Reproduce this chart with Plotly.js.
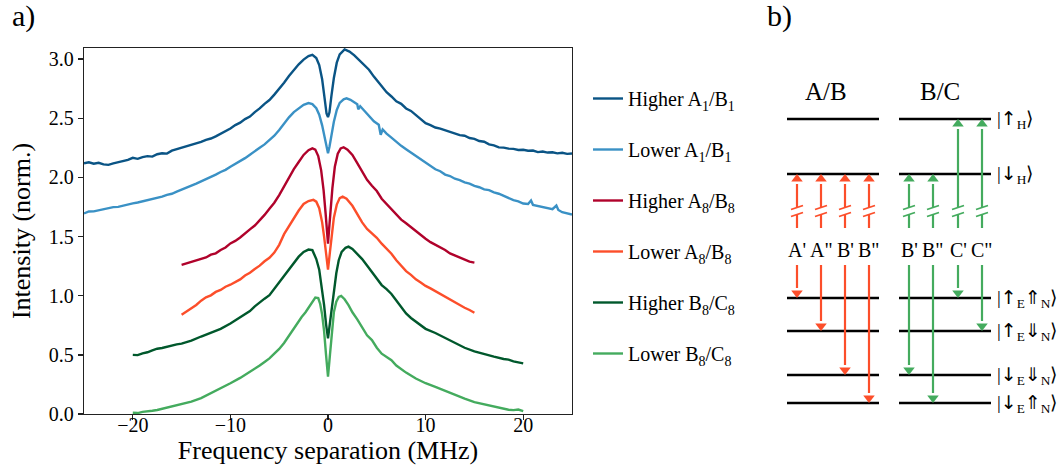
<!DOCTYPE html>
<html><head><meta charset="utf-8">
<script src="https://cdn.plot.ly/plotly-3.0.1.min.js"></script>
<style>html,body{margin:0;padding:0;background:#fff}#chart{width:1058px;height:473px}</style>
</head><body><div id="chart"></div>
<script>
// ---------------- Panel a) data ----------------
const seriesNames = ['Higher A<sub>1</sub>/B<sub>1</sub>','Lower A<sub>1</sub>/B<sub>1</sub>','Higher A<sub>8</sub>/B<sub>8</sub>','Lower A<sub>8</sub>/B<sub>8</sub>','Higher B<sub>8</sub>/C<sub>8</sub>','Lower B<sub>8</sub>/C<sub>8</sub>'];
const seriesColors = ['#0a5485','#3a91c5','#b0022b','#fc4e2a','#00582c','#44ab5e'];

const hiA1_x = [-25,-24.5,-24,-23.5,-23,-22.5,-22,-21.5,-21,-20.5,-20,-19.5,-19,-18.5,-18,-17.5,-17,-16.5,-16,-15.5,-15,-14.5,-14,-13.5,-13,-12.5,-12,-11.5,-11,-10.5,-10,-9.5,-9,-8.5,-8,-7.5,-7,-6.5,-6,
 -5.5,-5,-4.5,-4,-3.5,-3,-2.5,-2,-1.6,-1.2,-0.9,-0.6,-0.35,-0.15,0,0.15,0.35,0.6,0.9,1.2,1.7,2.2,2.7,3.2,3.7,4.2,4.7,5.2,5.7,
 6,6.5,7,7.5,8,8.5,9,9.5,10,10.5,11,11.5,12,12.5,13,13.5,14,14.5,15,15.5,16,16.5,17,17.5,18,18.5,19,19.5,20,20.5,21,21.5,22,22.5,23,23.5,24,24.5,25];
const hiA1_y = [2.12,2.128,2.116,2.124,2.11,2.106,2.118,2.128,2.142,2.148,2.166,2.157,2.172,2.18,2.176,2.196,2.204,2.201,2.226,2.238,2.256,2.262,2.278,2.288,2.3,2.318,2.329,2.347,2.368,2.392,2.414,2.442,2.463,2.493,2.514,2.552,2.583,2.622,2.654,
 2.70,2.748,2.80,2.857,2.908,2.956,2.996,3.026,3.036,3.01,2.95,2.83,2.67,2.54,2.51,2.55,2.69,2.84,2.97,3.04,3.082,3.064,3.032,2.993,2.957,2.91,2.852,2.803,2.757,
 2.72,2.684,2.643,2.622,2.583,2.562,2.526,2.494,2.458,2.442,2.422,2.413,2.398,2.384,2.372,2.357,2.352,2.333,2.326,2.308,2.302,2.279,2.271,2.254,2.252,2.243,2.241,2.232,2.234,2.226,2.227,2.214,2.219,2.21,2.212,2.203,2.208,2.199,2.202];

const loA1_x = [-25,-24.5,-24,-23.5,-23,-22.5,-22,-21.5,-21,-20.5,-20,-19.5,-19,-18.5,-18,-17.5,-17,-16.5,-16,-15.5,-15,-14.5,-14,-13.5,-13,-12.5,-12,-11.5,-11,-10.5,-10,-9.5,-9,-8.5,-8,-7.5,-7,-6.5,-6,
 -5.5,-5,-4.5,-4,-3.5,-3,-2.5,-2,-1.6,-1.2,-0.9,-0.6,-0.35,-0.15,0,0.15,0.35,0.6,0.9,1.2,1.6,1.9,2.3,2.7,3.0,3.1,3.3,3.7,4.2,4.7,5.2,5.4,5.6,
 6,6.5,7,7.5,8,8.5,9,9.5,10,10.5,11,11.5,12,12.5,13,13.5,14,14.5,15,15.5,16,16.5,17,17.5,18,18.5,19,19.5,20,20.5,20.8,21,21.5,22,22.5,23,23.4,23.6,24,24.5,25];
const loA1_y = [1.695,1.712,1.713,1.722,1.728,1.738,1.749,1.751,1.762,1.771,1.781,1.788,1.797,1.808,1.816,1.829,1.838,1.853,1.862,1.879,1.898,1.914,1.931,1.948,1.966,1.984,2.006,2.024,2.046,2.064,2.09,2.113,2.141,2.163,2.192,2.218,2.251,2.279,2.316,
 2.352,2.40,2.458,2.508,2.552,2.586,2.614,2.628,2.62,2.585,2.53,2.44,2.34,2.25,2.205,2.26,2.36,2.47,2.57,2.63,2.66,2.668,2.656,2.632,2.618,2.575,2.602,2.566,2.516,2.474,2.446,2.36,2.405,
 2.37,2.336,2.298,2.267,2.238,2.211,2.178,2.152,2.124,2.097,2.069,2.052,2.024,2.012,1.989,1.977,1.958,1.947,1.928,1.917,1.899,1.892,1.873,1.862,1.843,1.823,1.808,1.797,1.779,1.776,1.805,1.768,1.759,1.747,1.739,1.731,1.762,1.725,1.706,1.699,1.686];

const hiA8_x = [-15,-14.5,-14,-13.5,-13,-12.5,-12,-11.5,-11,-10.5,-10,-9.5,-9,-8.5,-8,-7.5,-7,-6.5,-6,-5.5,-5,-4.5,-4,-3.5,-3,-2.5,-2,-1.6,-1.3,-1.0,-0.7,-0.45,-0.25,-0.1,0,0.1,0.25,0.45,0.7,1.0,1.3,1.6,2.0,2.5,3.0,3.5,4.0,4.5,5.0,5.5,6,6.5,7,7.5,8,8.5,9,9.5,10,10.5,11,11.5,12,12.5,13,13.5,14,14.5,15];
const hiA8_y = [1.26,1.272,1.287,1.298,1.312,1.323,1.347,1.358,1.386,1.408,1.442,1.463,1.492,1.523,1.561,1.593,1.636,1.683,1.736,1.786,1.85,1.925,2.0,2.07,2.13,2.19,2.23,2.245,2.235,2.18,2.06,1.89,1.70,1.53,1.44,1.55,1.72,1.91,2.09,2.2,2.245,2.255,2.235,2.19,2.12,2.045,1.98,1.93,1.885,1.82,1.775,1.73,1.685,1.643,1.612,1.578,1.546,1.508,1.481,1.453,1.432,1.408,1.387,1.358,1.342,1.323,1.306,1.288,1.28];

const loA8_x = [-15,-14.5,-14,-13.5,-13,-12.5,-12,-11.5,-11,-10.5,-10,-9.5,-9,-8.5,-8,-7.5,-7,-6.5,-6,-5.5,-5,-4.5,-4,-3.5,-3,-2.5,-2,-1.5,-1.2,-0.9,-0.6,-0.4,-0.2,0,0.2,0.4,0.6,0.9,1.2,1.5,1.9,2.5,3.0,3.5,4.0,4.5,5.0,5.5,6,6.5,7,7.5,8,8.5,9,9.5,10,10.5,11,11.5,12,12.5,13,13.5,14,14.5,15];
const loA8_y = [0.84,0.868,0.892,0.922,0.958,0.986,1.003,1.032,1.049,1.076,1.093,1.117,1.138,1.171,1.194,1.226,1.254,1.291,1.32,1.365,1.43,1.52,1.59,1.66,1.72,1.775,1.80,1.81,1.795,1.74,1.62,1.50,1.36,1.22,1.37,1.52,1.66,1.77,1.825,1.838,1.82,1.76,1.685,1.62,1.565,1.525,1.49,1.44,1.40,1.355,1.30,1.252,1.208,1.176,1.138,1.112,1.083,1.062,1.038,1.016,0.988,0.966,0.943,0.921,0.898,0.879,0.856];

const hiB8_x = [-20,-19.5,-19,-18.5,-18,-17.5,-17,-16.5,-16,-15.5,-15,-14,-13,-12.5,-12,-11,-10,-9,-8.5,-8,-7.5,-7,-6.5,-6,-5.5,-5,-4.5,-4,-3.5,-3,-2.5,-2,-1.6,-1.2,-0.9,-0.6,-0.4,-0.2,0,0.2,0.4,0.6,0.85,1.1,1.4,1.8,2.1,2.5,3.0,3.5,4.0,4.5,5,5.5,6,6.5,7,7.5,8,8.5,9,9.5,10,11,12,13,14,15,16,17,18,18.5,19,19.5,20];
const hiB8_y = [0.50,0.498,0.513,0.522,0.538,0.552,0.558,0.569,0.574,0.588,0.595,0.62,0.655,0.671,0.69,0.72,0.765,0.815,0.84,0.87,0.91,0.945,0.975,1.005,1.06,1.11,1.16,1.22,1.275,1.33,1.37,1.39,1.385,1.31,1.22,1.06,0.92,0.76,0.64,0.77,0.90,1.05,1.19,1.30,1.37,1.405,1.415,1.395,1.355,1.31,1.255,1.20,1.145,1.09,1.055,1.015,0.96,0.90,0.85,0.812,0.78,0.745,0.72,0.685,0.645,0.60,0.56,0.53,0.505,0.485,0.465,0.46,0.445,0.436,0.428];

const loB8_x = [-20,-19.5,-19,-18.5,-18,-17.5,-17,-16,-15,-14,-13,-12,-11,-10,-9,-8,-7.5,-7,-6.5,-6,-5.5,-5,-4.5,-4,-3.5,-3,-2.7,-2.3,-2.0,-1.6,-1.3,-1.0,-0.8,-0.6,-0.4,-0.2,0,0.2,0.4,0.6,0.85,1.1,1.35,1.7,2.1,2.5,3.0,3.5,4.0,4.5,5,5.5,6,6.5,7,7.5,8,9,10,11,12,13,14,15,16,17,18,18.5,19,19.5,20];
const loB8_y = [0.01,0.008,0.018,0.02,0.028,0.034,0.045,0.065,0.085,0.105,0.135,0.175,0.215,0.26,0.305,0.355,0.385,0.41,0.44,0.47,0.51,0.55,0.60,0.66,0.73,0.79,0.82,0.86,0.90,0.95,0.985,0.98,0.93,0.84,0.70,0.50,0.315,0.50,0.70,0.86,0.95,0.99,0.998,0.97,0.92,0.86,0.80,0.73,0.665,0.625,0.56,0.51,0.485,0.455,0.41,0.38,0.35,0.30,0.26,0.23,0.195,0.16,0.13,0.10,0.08,0.06,0.045,0.036,0.033,0.038,0.025];

const seriesX = [hiA1_x, loA1_x, hiA8_x, loA8_x, hiB8_x, loB8_x];
const seriesY = [hiA1_y, loA1_y, hiA8_y, loA8_y, hiB8_y, loB8_y];

// ---------------- Panel b) data (schematic energy diagram) ----------------
const A = s => '<span style="font-family:\'DejaVu Sans\'">' + s + '</span>';
const levelLabels = ['|' + A('↑') + '<sub>H</sub>⟩', '|' + A('↓') + '<sub>H</sub>⟩',
  '|' + A('↑') + '<sub>E</sub>' + A('⇑') + '<sub>N</sub>⟩', '|' + A('↑') + '<sub>E</sub>' + A('⇓') + '<sub>N</sub>⟩',
  '|' + A('↓') + '<sub>E</sub>' + A('⇓') + '<sub>N</sub>⟩', '|' + A('↓') + '<sub>E</sub>' + A('⇑') + '<sub>N</sub>⟩'];
const levelE = [119, 174, 298, 331, 375, 403];           // schematic level heights (diagram units, downward)
const groupTitles = ['A/B', 'B/C'];
const groupTitleX = [826, 940];
const groupSpan = [[787, 879], [899, 991]];                 // level line extents per group
const groupColors = ['#fc4e2a', '#44ab5e'];
const transLabels = [["A'", 'A"', "B'", 'B"'], ["B'", 'B"', "C'", 'C"']];
const transPos = [[797, 821, 845, 869], [909, 933, 958, 982]];
const transUpper = [[1, 1, 1, 1], [1, 1, 0, 0]];           // index into levelE (excitation end)
const transLower = [[2, 3, 4, 5], [4, 5, 2, 3]];           // index into levelE (emission end)

// ---------------- build ----------------
const FONT = '"Liberation Serif", "Times New Roman", serif';
const traces = [];
for (let i = 0; i < seriesNames.length; i++) {
  traces.push({x: seriesX[i], y: seriesY[i], type: 'scatter', mode: 'lines', name: seriesNames[i],
    legendgroup: 'g' + i, line: {color: seriesColors[i], width: 2.4}, hoverinfo: 'skip'});
}

const ann = [];
const xd = 'x2', yd = 'y2';
const lvX = [], lvY = [];
for (let g = 0; g < 2; g++) {
  for (let k = 0; k < levelE.length; k++) {
    lvX.push(groupSpan[g][0], groupSpan[g][1], null);
    lvY.push(levelE[k], levelE[k], null);
  }
}
traces.push({x: lvX, y: lvY, xaxis: xd, yaxis: yd, type: 'scatter', mode: 'lines', showlegend: false,
  line: {color: '#000', width: 2.6}, hoverinfo: 'skip'});

const upStart = 228, breakLo = 214, breakHi = 207, labelY = 250, downStart = 265, headR = 5;
for (let g = 0; g < 2; g++) {
  const sx = [], sy = [], mx = [], my = [], ms = [], bx = [], by = [];
  for (let j = 0; j < 4; j++) {
    const x = transPos[g][j];
    const top = levelE[transUpper[g][j]];
    const bot = levelE[transLower[g][j]];
    sx.push(x, x, null, x, x, null);
    sy.push(upStart, breakLo, null, breakHi, top + headR * 2, null);
    mx.push(x); my.push(top + headR); ms.push('triangle-up');
    bx.push(x - 6, x + 6, null, x - 6, x + 6, null);
    by.push(breakHi + 2.5, breakHi - 1.5, null, breakLo + 2.5, breakLo - 1.5, null);
    sx.push(x, x, null);
    sy.push(downStart, bot - headR * 2, null);
    mx.push(x); my.push(bot - headR); ms.push('triangle-down');
    ann.push({x: x, y: labelY, xref: xd, yref: yd, text: transLabels[g][j], showarrow: false,
      font: {family: FONT, size: 20, color: '#000'}, xanchor: 'center', yanchor: 'middle'});
  }
  traces.push({x: sx, y: sy, xaxis: xd, yaxis: yd, type: 'scatter', mode: 'lines', showlegend: false,
    line: {color: groupColors[g], width: 2.2}, hoverinfo: 'skip'});
  traces.push({x: bx, y: by, xaxis: xd, yaxis: yd, type: 'scatter', mode: 'lines', showlegend: false,
    line: {color: groupColors[g], width: 1.8}, hoverinfo: 'skip'});
  traces.push({x: mx, y: my, xaxis: xd, yaxis: yd, type: 'scatter', mode: 'markers', showlegend: false,
    marker: {symbol: ms, size: 10, color: groupColors[g], line: {width: 0}}, hoverinfo: 'skip'});
  ann.push({x: groupTitleX[g], y: 91, xref: xd, yref: yd, text: groupTitles[g],
    showarrow: false, font: {family: FONT, size: 25, color: '#000'}, xanchor: 'center', yanchor: 'middle'});
}
for (let k = 0; k < levelE.length; k++) {
  ann.push({x: 995, y: levelE[k], xref: xd, yref: yd, text: levelLabels[k], showarrow: false,
    font: {family: FONT, size: 19, color: '#000'}, xanchor: 'left', yanchor: 'middle'});
}
ann.push({x: 23 / 1058, y: 1 - 16 / 473, xref: 'paper', yref: 'paper', text: 'a)', showarrow: false,
  font: {family: FONT, size: 30, color: '#000'}, xanchor: 'center', yanchor: 'middle'});
ann.push({x: 779 / 1058, y: 1 - 16 / 473, xref: 'paper', yref: 'paper', text: 'b)', showarrow: false,
  font: {family: FONT, size: 30, color: '#000'}, xanchor: 'center', yanchor: 'middle'});

const axLine = '#222';
const layout = {
  width: 1058, height: 473, margin: {l: 0, r: 0, t: 0, b: 0},
  paper_bgcolor: '#fff', plot_bgcolor: 'rgba(0,0,0,0)',
  font: {family: FONT, color: '#000'},
  showlegend: true,
  xaxis: {domain: [84 / 1058, 572 / 1058], range: [-25, 25], tickvals: [-20, -10, 0, 10, 20],
    showline: true, mirror: true, linecolor: axLine, linewidth: 1.3, ticks: 'outside', ticklen: 5,
    tickwidth: 1.3, tickcolor: axLine, showgrid: false, zeroline: false, ticklabelstandoff: -12,
    tickfont: {family: FONT, size: 20, color: '#000'},
    title: {text: 'Frequency separation (MHz)', font: {family: FONT, size: 26, color: '#000'}, standoff: 0}},
  yaxis: {domain: [59 / 473, 425 / 473], range: [0, 3.094], tickvals: [0, 0.5, 1, 1.5, 2, 2.5, 3],
    tickformat: '.1f', showline: true, mirror: true, linecolor: axLine, linewidth: 1.3, ticks: 'outside',
    ticklen: 5, tickwidth: 1.3, tickcolor: axLine, showgrid: false, zeroline: false,
    tickfont: {family: FONT, size: 20, color: '#000'},
    title: {text: 'Intensity (norm.)', font: {family: FONT, size: 26, color: '#000'}, standoff: 10}},
  xaxis2: {domain: [740 / 1058, 1], range: [740, 1058], visible: false, fixedrange: true, anchor: 'y2'},
  yaxis2: {domain: [0, 1], range: [473, 0], visible: false, fixedrange: true, anchor: 'x2'},
  legend: {x: 588 / 1058, y: 1 - 79 / 473, xanchor: 'left', yanchor: 'top', bgcolor: 'rgba(0,0,0,0)',
    font: {family: FONT, size: 20, color: '#000'}, tracegroupgap: 22, traceorder: 'grouped'},
  annotations: ann
};
Plotly.newPlot('chart', traces, layout, {staticPlot: true});
</script></body></html>
